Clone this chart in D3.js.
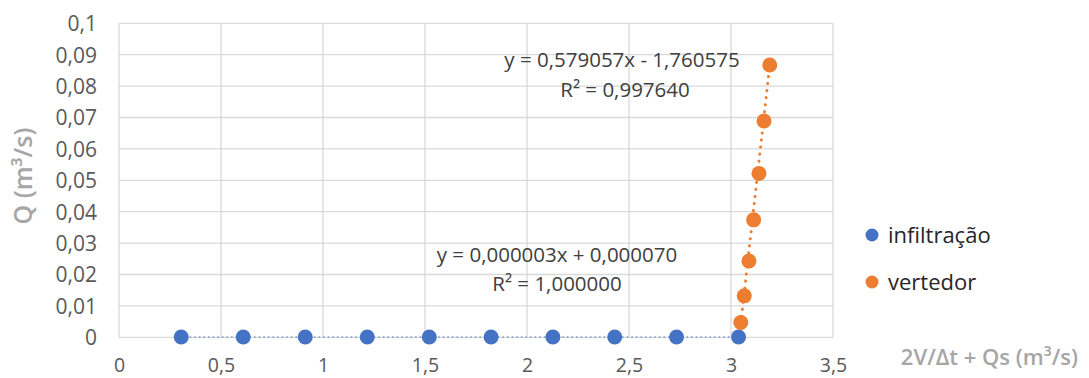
<!DOCTYPE html>
<html>
<head>
<meta charset="utf-8">
<script src="https://cdn.jsdelivr.net/npm/d3@7"></script>
<style>
  html, body { margin: 0; padding: 0; background: #fff; }
  svg { display: block; }
  text { font-family: "Open Sans", "Noto Sans", sans-serif; }
</style>
</head>
<body>
<svg id="chart" width="1089" height="378"></svg>
<script>
// ---- data ----
const infiltracaoX = [0.305, 0.609, 0.913, 1.217, 1.521, 1.824, 2.127, 2.430, 2.733, 3.037];
const infiltracaoY = [0.00008, 0.00008, 0.00008, 0.00008, 0.00008, 0.00008, 0.00008, 0.00008, 0.00008, 0.00008];
const vertedorX = [3.048, 3.065, 3.088, 3.111, 3.137, 3.162, 3.190];
const vertedorY = [0.0047, 0.0132, 0.0243, 0.0374, 0.0522, 0.0689, 0.0867];
const xTicks = [0, 0.5, 1, 1.5, 2, 2.5, 3, 3.5];
const yTicks = [0, 0.01, 0.02, 0.03, 0.04, 0.05, 0.06, 0.07, 0.08, 0.09, 0.1];
const trendInfiltracao = [0.000003, 0.000070];   // slope, intercept
const trendVertedor = [0.579057, -1.760575];
const labelsInfiltracao = ["y = 0,000003x + 0,000070", "R² = 1,000000"];
const labelsVertedor = ["y = 0,579057x - 1,760575", "R² = 0,997640"];
const seriesNames = ["infiltração", "vertedor"];
const xTitle = "2V/Δt + Qs (m³/s)";
const yTitle = "Q (m³/s)";

const colors = ["#4472C4", "#ED7D31"];
const fmt = v => String(v).replace(".", ",");

const svg = d3.select("#chart");
const x = d3.scaleLinear().domain([0, 3.5]).range([119, 833]);
const y = d3.scaleLinear().domain([0, 0.1]).range([337.3, 23.3]);

// gridlines
svg.append("g").selectAll("line").data(yTicks).join("line")
  .attr("x1", x(0)).attr("x2", x(3.5))
  .attr("y1", d => y(d)).attr("y2", d => y(d))
  .attr("stroke", "#D9D9D9").attr("stroke-width", 1.3);
svg.append("g").selectAll("line").data(xTicks).join("line")
  .attr("y1", y(0)).attr("y2", y(0.1))
  .attr("x1", d => x(d)).attr("x2", d => x(d))
  .attr("stroke", "#D9D9D9").attr("stroke-width", 1.3);

// axes (tick labels only)
const yAxis = svg.append("g").attr("transform", `translate(${x(0) - 22},0)`)
  .call(d3.axisLeft(y).tickValues(yTicks).tickFormat(fmt).tickSize(0).tickPadding(0));
yAxis.select(".domain").remove();
yAxis.selectAll("text").attr("font-size", 21).attr("fill", "#595959")
  .attr("font-family", "'Open Sans', sans-serif").attr("dy", "0.35em");

const xAxis = svg.append("g").attr("transform", `translate(0,${y(0)})`)
  .call(d3.axisBottom(x).tickValues(xTicks).tickFormat(fmt).tickSize(0).tickPadding(0));
xAxis.select(".domain").remove();
xAxis.selectAll("text").attr("font-size", 19.5).attr("fill", "#595959")
  .attr("font-family", "'Open Sans', sans-serif").attr("y", 34.5).attr("dy", 0);

// trendlines
function trend(xs, coef, color, width, dash) {
  const x0 = d3.min(xs), x1 = d3.max(xs);
  svg.append("line")
    .attr("x1", x(x0)).attr("y1", y(coef[0] * x0 + coef[1]))
    .attr("x2", x(x1)).attr("y2", y(coef[0] * x1 + coef[1]))
    .attr("stroke", color).attr("stroke-width", width)
    .attr("stroke-dasharray", dash).attr("stroke-linecap", "round");
}
trend(infiltracaoX, trendInfiltracao, "#7F9BD0", 1.8, "0.1 4.5");
trend(vertedorX, trendVertedor, colors[1], 3, "0.1 7");

// points
svg.append("g").selectAll("circle").data(d3.zip(infiltracaoX, infiltracaoY)).join("circle")
  .attr("cx", d => x(d[0])).attr("cy", d => y(d[1])).attr("r", 7.5).attr("fill", colors[0]);
svg.append("g").selectAll("circle").data(d3.zip(vertedorX, vertedorY)).join("circle")
  .attr("cx", d => x(d[0])).attr("cy", d => y(d[1])).attr("r", 7.5).attr("fill", colors[1]);

// trendline labels
function labels(lines, cxs, ys) {
  svg.append("g").selectAll("text").data(lines).join("text")
    .attr("x", (d, i) => cxs[i]).attr("y", (d, i) => ys[i]).attr("text-anchor", "middle")
    .attr("dy", "0.35em").attr("font-size", 20.5).attr("fill", "#404040")
    .text(d => d);
}
labels(labelsVertedor, [622, 625], [60, 90]);
labels(labelsInfiltracao, [557, 557], [255, 284]);

// axis titles
svg.append("text").attr("transform", "translate(23,176) rotate(-90)")
  .attr("text-anchor", "middle").attr("dy", "0.35em")
  .attr("font-size", 25).attr("fill", "#A6A6A6").attr("font-weight", 600)
  .text(yTitle);
svg.append("text").attr("x", 1078).attr("y", 357).attr("text-anchor", "end")
  .attr("dy", "0.35em").attr("font-size", 22).attr("fill", "#A6A6A6").attr("font-weight", 600)
  .text(xTitle);

// legend
const leg = svg.append("g").selectAll("g").data(seriesNames).join("g")
  .attr("transform", (d, i) => `translate(872,${235 + i * 47})`);
leg.append("circle").attr("r", 6.5).attr("fill", (d, i) => colors[i]);
leg.append("text").attr("x", 16).attr("dy", "0.35em").attr("font-size", 22)
  .attr("fill", "#262626").text(d => d);
</script>
</body>
</html>
